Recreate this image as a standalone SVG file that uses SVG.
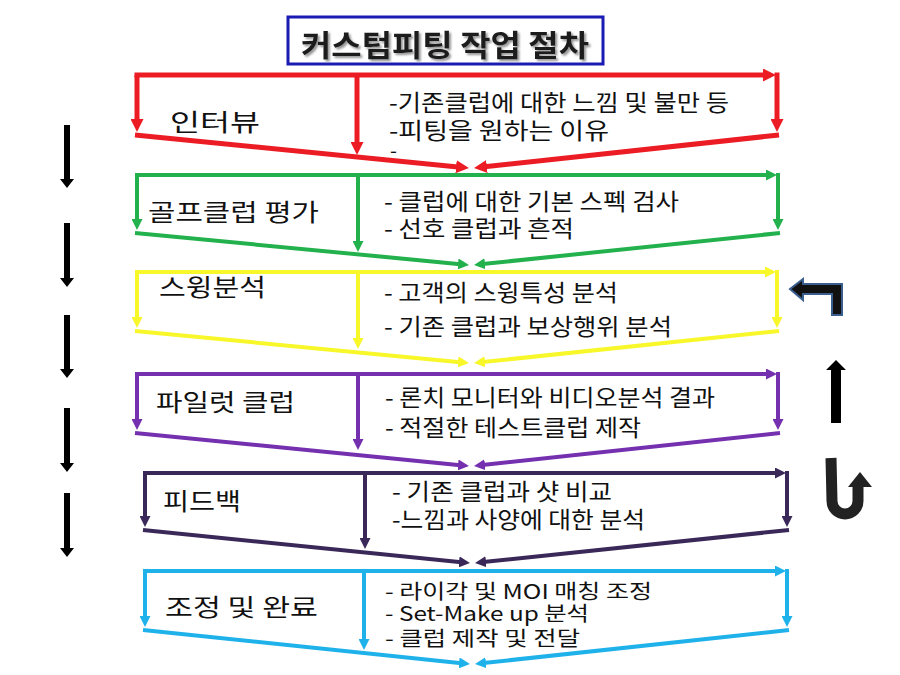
<svg xmlns="http://www.w3.org/2000/svg" width="900" height="675" viewBox="0 0 900 675">
<defs>
<style>
.fr{fill:none;stroke-width:4}
.red{stroke:#ec1c24;stroke-width:5}
.grn{stroke:#22b14c}
.yel{stroke:#f7f72a}
.pur{stroke:#7530b0}
.dpr{stroke:#3a2858}
.cyn{stroke:#1fb2ea}
text{font-family:"Noto Sans CJK KR","Noto Sans",sans-serif;fill:#111}
.lbl{font-size:24px}
.dsc{font-size:23px}
.sm{font-size:20px}
.ttl{font-size:30px;font-weight:bold;fill:#1a1a1a}
</style>
<filter id="sh" x="-10%" y="-30%" width="120%" height="160%">
<feDropShadow dx="2" dy="2" stdDeviation="0.8" flood-color="#888" flood-opacity="0.9"/>
</filter>
<marker id="mR" viewBox="0 0 13 13" refX="7" refY="6.5" markerWidth="13" markerHeight="13" markerUnits="userSpaceOnUse" orient="auto"><path d="M0,0L13,6.5L0,13z" fill="#ec1c24"/></marker>
<marker id="mG" viewBox="0 0 11 11" refX="5" refY="5.5" markerWidth="11" markerHeight="11" markerUnits="userSpaceOnUse" orient="auto"><path d="M0,0L11,5.5L0,11z" fill="#22b14c"/></marker>
<marker id="mY" viewBox="0 0 11 11" refX="5" refY="5.5" markerWidth="11" markerHeight="11" markerUnits="userSpaceOnUse" orient="auto"><path d="M0,0L11,5.5L0,11z" fill="#f7f72a"/></marker>
<marker id="mP" viewBox="0 0 11 11" refX="5" refY="5.5" markerWidth="11" markerHeight="11" markerUnits="userSpaceOnUse" orient="auto"><path d="M0,0L11,5.5L0,11z" fill="#7530b0"/></marker>
<marker id="mD" viewBox="0 0 11 11" refX="5" refY="5.5" markerWidth="11" markerHeight="11" markerUnits="userSpaceOnUse" orient="auto"><path d="M0,0L11,5.5L0,11z" fill="#3a2858"/></marker>
<marker id="mC" viewBox="0 0 11 11" refX="5" refY="5.5" markerWidth="11" markerHeight="11" markerUnits="userSpaceOnUse" orient="auto"><path d="M0,0L11,5.5L0,11z" fill="#1fb2ea"/></marker>
</defs>
<rect width="900" height="675" fill="#fff"/>

<g id="title">
<rect x="288" y="17" width="315" height="47" fill="#fff" stroke="#1a1ab4" stroke-width="3"/>
<text class="ttl" x="301" y="56" textLength="288" lengthAdjust="spacingAndGlyphs" filter="url(#sh)">커스텀피팅 작업 절차</text>
</g>

<g id="interview">
<g class="fr red">
<path d="M134.5,75H770" marker-end="url(#mR)"/>
<path d="M137,75V126" marker-end="url(#mR)"/>
<path d="M357,75V149" marker-end="url(#mR)"/>
<path d="M777,72.5V126" marker-end="url(#mR)"/>
<path d="M135,135L463,167.4" marker-end="url(#mR)"/>
<path d="M779,135L480,167.3" marker-end="url(#mR)"/>
</g>
<text class="lbl" x="170" y="131" font-size="27" textLength="90" lengthAdjust="spacingAndGlyphs">인터뷰</text>
<text class="dsc" x="389" y="111" textLength="340" lengthAdjust="spacingAndGlyphs">-기존클럽에 대한 느낌 및 불만 등</text>
<text class="dsc" x="389" y="139" textLength="220" lengthAdjust="spacingAndGlyphs">-피팅을 원하는 이유</text>
<text class="sm" x="390" y="158">-</text>
</g>

<g id="club-eval">
<g class="fr grn">
<path d="M135,175H771" marker-end="url(#mG)"/>
<path d="M137,175V224" marker-end="url(#mG)"/>
<path d="M358,175V246" marker-end="url(#mG)"/>
<path d="M778,173V224" marker-end="url(#mG)"/>
<path d="M135,233L463,264.4" marker-end="url(#mG)"/>
<path d="M780,233L480,264.3" marker-end="url(#mG)"/>
</g>
<text class="lbl" x="148" y="221" textLength="171" lengthAdjust="spacingAndGlyphs">골프클럽 평가</text>
<text class="dsc" x="384" y="210" textLength="295" lengthAdjust="spacingAndGlyphs">- 클럽에 대한 기본 스펙 검사</text>
<text class="dsc" x="384" y="237" textLength="190" lengthAdjust="spacingAndGlyphs">- 선호 클럽과 흔적</text>
</g>

<g id="swing">
<g class="fr yel">
<path d="M135,272H770" marker-end="url(#mY)"/>
<path d="M137,272V322" marker-end="url(#mY)"/>
<path d="M358,272V343" marker-end="url(#mY)"/>
<path d="M777,270V322" marker-end="url(#mY)"/>
<path d="M135,331L463,362.4" marker-end="url(#mY)"/>
<path d="M779,331L480,362.3" marker-end="url(#mY)"/>
</g>
<text class="lbl" x="159" y="296" textLength="107" lengthAdjust="spacingAndGlyphs">스윙분석</text>
<text class="dsc" x="384" y="301" textLength="234" lengthAdjust="spacingAndGlyphs">- 고객의 스윙특성 분석</text>
<text class="dsc" x="384" y="335" textLength="288" lengthAdjust="spacingAndGlyphs">- 기존 클럽과 보상행위 분석</text>
</g>

<g id="pilot">
<g class="fr pur">
<path d="M135,374H771" marker-end="url(#mP)"/>
<path d="M137,374V424" marker-end="url(#mP)"/>
<path d="M358,374V444" marker-end="url(#mP)"/>
<path d="M778,372V424" marker-end="url(#mP)"/>
<path d="M135,433L463,465.4" marker-end="url(#mP)"/>
<path d="M780,433L480,465.3" marker-end="url(#mP)"/>
</g>
<text class="lbl" x="156" y="411" textLength="139" lengthAdjust="spacingAndGlyphs">파일럿 클럽</text>
<text class="dsc" x="385" y="406" textLength="330" lengthAdjust="spacingAndGlyphs">- 론치 모니터와 비디오분석 결과</text>
<text class="dsc" x="385" y="436" textLength="256" lengthAdjust="spacingAndGlyphs">- 적절한 테스트클럽 제작</text>
</g>

<g id="feedback">
<g class="fr dpr">
<path d="M143,473H780" marker-end="url(#mD)"/>
<path d="M145,473V521" marker-end="url(#mD)"/>
<path d="M365,473V543" marker-end="url(#mD)"/>
<path d="M787,471V521" marker-end="url(#mD)"/>
<path d="M143,530L464,562.4" marker-end="url(#mD)"/>
<path d="M789,530L481,562.3" marker-end="url(#mD)"/>
</g>
<text class="lbl" x="163" y="510" textLength="78" lengthAdjust="spacingAndGlyphs">피드백</text>
<text class="dsc" x="392" y="500" textLength="220" lengthAdjust="spacingAndGlyphs">- 기존 클럽과 샷 비교</text>
<text class="dsc" x="392" y="528" textLength="253" lengthAdjust="spacingAndGlyphs">-느낌과 사양에 대한 분석</text>
</g>

<g id="adjust">
<g class="fr cyn">
<path d="M143,571H780" marker-end="url(#mC)"/>
<path d="M145,571V621" marker-end="url(#mC)"/>
<path d="M364,571V644" marker-end="url(#mC)"/>
<path d="M787,569V621" marker-end="url(#mC)"/>
<path d="M143,630L464,663.4" marker-end="url(#mC)"/>
<path d="M789,630L481,663.3" marker-end="url(#mC)"/>
</g>
<text class="lbl" x="165" y="616" textLength="153" lengthAdjust="spacingAndGlyphs">조정 및 완료</text>
<text class="sm" x="385" y="599" textLength="267" lengthAdjust="spacingAndGlyphs">- 라이각 및 MOI 매칭 조정</text>
<text class="sm" x="385" y="621" textLength="204" lengthAdjust="spacingAndGlyphs">- Set-Make up 분석</text>
<text class="sm" x="385" y="646" textLength="195" lengthAdjust="spacingAndGlyphs">- 클럽 제작 및 전달</text>
</g>

<g id="connectors" fill="#000">
<path d="M64,125H70V179H74L67,188L60,179H64Z"/>
<path d="M64,223H70V278H74L67,287L60,278H64Z"/>
<path d="M64,315H70V369H74L67,378L60,369H64Z"/>
<path d="M64,408H70V463H74L67,472L60,463H64Z"/>
<path d="M64,493H70V548H74L67,557L60,548H64Z"/>
<path d="M790,289L803,279V284H842V315H832V294H803V300Z" fill="#111" stroke="#3a5f8f" stroke-width="2" stroke-linejoin="miter"/>
<path d="M831,423V370H826L836,360L846,370H841V423Z"/>
<path d="M831,458L832,501A13,13 0 0 0 858,501V485" fill="none" stroke="#222" stroke-width="11"/>
<path d="M860,472L872,487H848Z" fill="#222"/>
</g>
</svg>
